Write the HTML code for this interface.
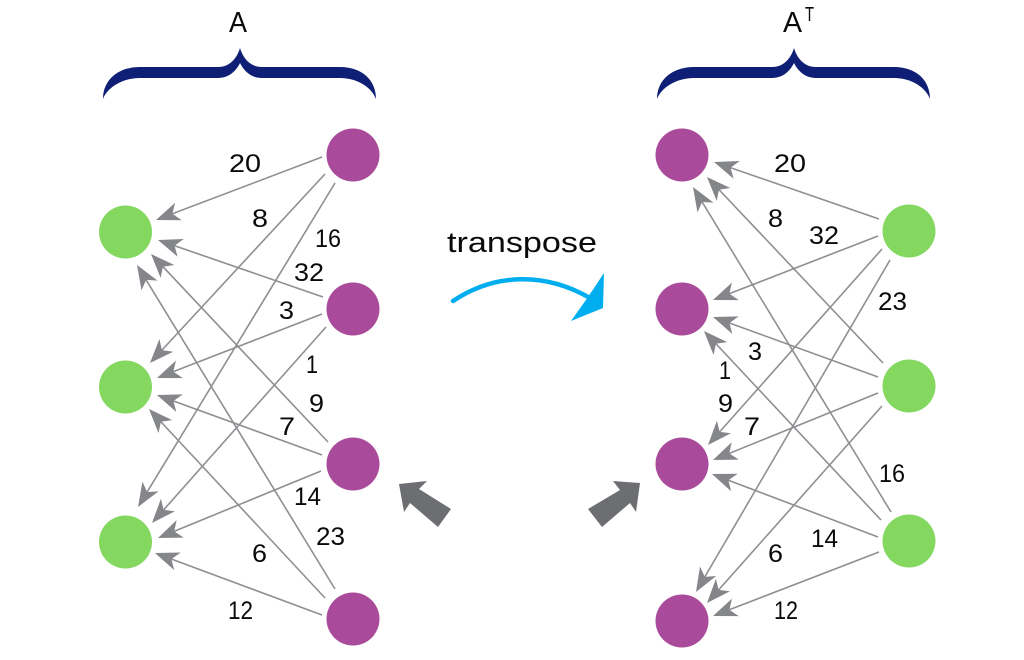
<!DOCTYPE html>
<html>
<head>
<meta charset="utf-8">
<style>
html,body{margin:0;padding:0;background:#fff;width:1024px;height:660px;overflow:hidden}
svg{display:block}
.e line{stroke:#8e8f92;stroke-width:1.6;marker-end:url(#h);stroke-dasharray:96.5 100}
text{font-family:"Liberation Sans","DejaVu Sans",sans-serif;fill:#0a0a0a}
.n text{font-size:25px}
</style>
</head>
<body>
<svg width="1024" height="660" viewBox="0 0 1024 660" xmlns="http://www.w3.org/2000/svg">
<defs>
<marker id="h" markerUnits="userSpaceOnUse" markerWidth="26" markerHeight="20" refX="24" refY="10" orient="auto" overflow="visible">
<path d="M24,10 L0,0.6 L6.5,10 L0,19.4 Z" fill="#85868a"/>
</marker>
<path id="b" d="M103,99 C103,80 118,67 140,67 L218,67 C230,67 237,58 240,48 C243,58 250,67 262,67 L340,67 C362,67 376,80 376,99 C372,88 358,78 340,78 L262,78 C251,78 244,71 240,63 C236,71 229,78 218,78 L140,78 C122,78 107,88 103,99 Z" fill="#0f1f75"/>
</defs>

<use href="#b"/>
<use href="#b" x="554"/>

<text x="229" y="32" font-size="29" textLength="18" lengthAdjust="spacingAndGlyphs">A</text>
<text x="783" y="32" font-size="29" textLength="19" lengthAdjust="spacingAndGlyphs">A</text>
<text x="805" y="21" font-size="20" textLength="9" lengthAdjust="spacingAndGlyphs">T</text>
<text x="447" y="252" font-size="29" textLength="150" lengthAdjust="spacingAndGlyphs">transpose</text>

<g class="e">
<line pathLength="100" x1="322" y1="157" x2="156" y2="220"/>
<line pathLength="100" x1="325" y1="174" x2="150" y2="363"/>
<line pathLength="100" x1="335" y1="183" x2="138" y2="507"/>
<line pathLength="100" x1="323" y1="297" x2="158" y2="240"/>
<line pathLength="100" x1="322" y1="314" x2="157" y2="378"/>
<line pathLength="100" x1="326" y1="327" x2="152" y2="523"/>
<line pathLength="100" x1="328" y1="442" x2="151" y2="254"/>
<line pathLength="100" x1="322" y1="455" x2="157" y2="395"/>
<line pathLength="100" x1="321" y1="471" x2="158" y2="538"/>
<line pathLength="100" x1="325" y1="598" x2="149" y2="409"/>
<line pathLength="100" x1="335" y1="589" x2="137" y2="265"/>
<line pathLength="100" x1="322" y1="615" x2="155" y2="553"/>

<line pathLength="100" x1="879" y1="219" x2="714" y2="162"/>
<line pathLength="100" x1="883" y1="363" x2="707" y2="177"/>
<line pathLength="100" x1="891" y1="512" x2="693" y2="187"/>
<line pathLength="100" x1="878" y1="236" x2="713" y2="300"/>
<line pathLength="100" x1="878" y1="377" x2="713" y2="317"/>
<line pathLength="100" x1="881" y1="520" x2="704" y2="331"/>
<line pathLength="100" x1="882" y1="249" x2="708" y2="445"/>
<line pathLength="100" x1="878" y1="393" x2="713" y2="460"/>
<line pathLength="100" x1="878" y1="537" x2="712" y2="474"/>
<line pathLength="100" x1="890" y1="260" x2="696" y2="592"/>
<line pathLength="100" x1="882" y1="406" x2="707" y2="603"/>
<line pathLength="100" x1="879" y1="552" x2="713" y2="616"/>
</g>

<g fill="#84d860">
<circle cx="125.5" cy="232" r="26.5"/>
<circle cx="125.5" cy="387" r="26.5"/>
<circle cx="125.5" cy="542" r="26.5"/>
<circle cx="909" cy="231" r="26.5"/>
<circle cx="909" cy="386" r="26.5"/>
<circle cx="909" cy="541" r="26.5"/>
</g>
<g fill="#a94a9a">
<circle cx="353" cy="155" r="26.5"/>
<circle cx="353" cy="309" r="26.5"/>
<circle cx="353" cy="464" r="26.5"/>
<circle cx="353" cy="619" r="26.5"/>
<circle cx="682" cy="155" r="26.5"/>
<circle cx="682" cy="309" r="26.5"/>
<circle cx="682" cy="464" r="26.5"/>
<circle cx="682" cy="621" r="26.5"/>
</g>

<g class="n">
<text x="229" y="172" textLength="32" lengthAdjust="spacingAndGlyphs">20</text>
<text x="252" y="227" textLength="16" lengthAdjust="spacingAndGlyphs">8</text>
<text x="315" y="247" textLength="26" lengthAdjust="spacingAndGlyphs">16</text>
<text x="294" y="281" textLength="30" lengthAdjust="spacingAndGlyphs">32</text>
<text x="279" y="319" textLength="15" lengthAdjust="spacingAndGlyphs">3</text>
<text x="306" y="373" textLength="12" lengthAdjust="spacingAndGlyphs">1</text>
<text x="309" y="412" textLength="15" lengthAdjust="spacingAndGlyphs">9</text>
<text x="279" y="435" textLength="16" lengthAdjust="spacingAndGlyphs">7</text>
<text x="294" y="505" textLength="27" lengthAdjust="spacingAndGlyphs">14</text>
<text x="316" y="545" textLength="29" lengthAdjust="spacingAndGlyphs">23</text>
<text x="252" y="562" textLength="15" lengthAdjust="spacingAndGlyphs">6</text>
<text x="228" y="619" textLength="25" lengthAdjust="spacingAndGlyphs">12</text>

<text x="774" y="172" textLength="32" lengthAdjust="spacingAndGlyphs">20</text>
<text x="768" y="227" textLength="15" lengthAdjust="spacingAndGlyphs">8</text>
<text x="809" y="244" textLength="30" lengthAdjust="spacingAndGlyphs">32</text>
<text x="878" y="310" textLength="29" lengthAdjust="spacingAndGlyphs">23</text>
<text x="748" y="360" textLength="14" lengthAdjust="spacingAndGlyphs">3</text>
<text x="719" y="379" textLength="12" lengthAdjust="spacingAndGlyphs">1</text>
<text x="718" y="412" textLength="15" lengthAdjust="spacingAndGlyphs">9</text>
<text x="744" y="435" textLength="16" lengthAdjust="spacingAndGlyphs">7</text>
<text x="879" y="482" textLength="26" lengthAdjust="spacingAndGlyphs">16</text>
<text x="811" y="547" textLength="27" lengthAdjust="spacingAndGlyphs">14</text>
<text x="768" y="562" textLength="15" lengthAdjust="spacingAndGlyphs">6</text>
<text x="774" y="619" textLength="24" lengthAdjust="spacingAndGlyphs">12</text>
</g>

<path d="M453,301 C495,273 545,272 590,298" fill="none" stroke="#00aeef" stroke-width="4.5" stroke-linecap="round"/>
<polygon points="604,273 603,308 571,321 588,297" fill="#00aeef"/>

<polygon points="399,484 427,481 419,489 451,509 438,527 410,503 404,512" fill="#6d6e71"/>
<polygon points="640,483 613,481 620,490 588,509 602,527 630,503 636,512" fill="#6d6e71"/>
</svg>
</body>
</html>
